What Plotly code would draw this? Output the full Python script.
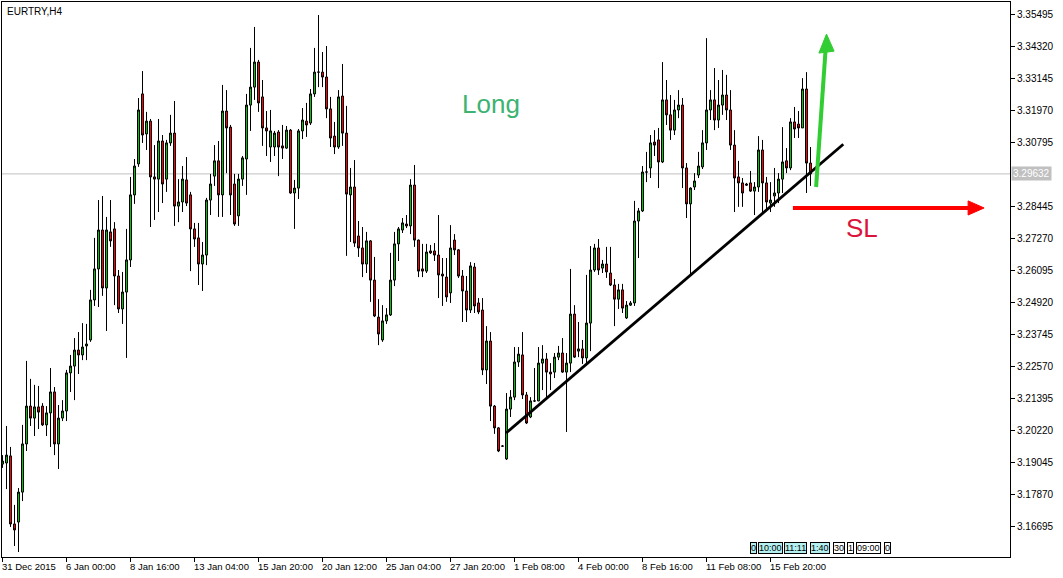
import plotly.graph_objects as go

symbol_title = "EURTRY,H4"

open_ = [3.1897, 3.1901, 3.1927, 3.1677, 3.1684, 3.1794, 3.1971, 3.2110, 3.2066, 3.2107,
         3.2110, 3.2041, 3.2085, 3.2162, 3.1971, 3.2066, 3.2092, 3.2232, 3.2257, 3.2316,
         3.2298, 3.2331, 3.2353, 3.2500, 3.2614, 3.2757, 3.2544, 3.2750, 3.2761, 3.2588,
         3.2467, 3.2529, 3.2647, 3.2886, 3.3000, 3.3257, 3.3110, 3.3157, 3.2952, 3.2944,
         3.3084, 3.2944, 3.3077, 3.3113, 3.2845, 3.2860, 3.2941, 3.2886, 3.2761, 3.2728,
         3.2632, 3.2665, 3.2867, 3.2955, 3.3011, 3.2886, 3.3194, 3.3135, 3.2926, 3.2809,
         3.2944, 3.3018, 3.3216, 3.3282, 3.3374, 3.3246, 3.3132, 3.3062, 3.3062, 3.3117,
         3.3066, 3.3058, 3.3124, 3.2893, 3.2911, 3.3121, 3.3157, 3.3150, 3.3257, 3.3337,
         3.3337, 3.3319, 3.3202, 3.3102, 3.3062, 3.3249, 3.3113, 3.2886, 3.2915, 3.2735,
         3.2691, 3.2632, 3.2717, 3.2573, 3.2437, 3.2353, 3.2423, 3.2445, 3.2573, 3.2706,
         3.2757, 3.2779, 3.2772, 3.2922, 3.2720, 3.2614, 3.2606, 3.2680, 3.2680, 3.2665,
         3.2595, 3.2584, 3.2526, 3.2720, 3.2684, 3.2588, 3.2533, 3.2463, 3.2621, 3.2489,
         3.2463, 3.2243, 3.2349, 3.2110, 3.2030, 3.1963, 3.1916, 3.2099, 3.2143, 3.2272,
         3.2298, 3.2151, 3.2070, 3.2129, 3.2129, 3.2268, 3.2283, 3.2235, 3.2235, 3.2290,
         3.2305, 3.2235, 3.2268, 3.2448, 3.2312, 3.2320, 3.2287, 3.2415, 3.2610, 3.2691,
         3.2617, 3.2632, 3.2599, 3.2555, 3.2503, 3.2537, 3.2434, 3.2481, 3.2489, 3.2790,
         3.2827, 3.2970, 3.2985, 3.3080, 3.3088, 3.3007, 3.3235, 3.3180, 3.3124, 3.3198,
         3.3216, 3.2985, 3.2853, 3.2915, 3.2959, 3.2989, 3.3077, 3.3198, 3.3235, 3.3161,
         3.3216, 3.3253, 3.3198, 3.3069, 3.2952, 3.2930, 3.2926, 3.2930, 3.2900, 3.2915,
         3.3051, 3.2930, 3.2856, 3.2882, 3.2893, 3.2944, 3.3011, 3.2985, 3.3154, 3.3146,
         3.3132, 3.3275, 3.3003]
high = [3.1930, 3.2037, 3.1960, 3.1747, 3.1809, 3.2041, 3.2276, 3.2210, 3.2188, 3.2184,
        3.2121, 3.2110, 3.2250, 3.2180, 3.2114, 3.2132, 3.2243, 3.2298, 3.2360, 3.2382,
        3.2415, 3.2412, 3.2537, 3.2728, 3.2867, 3.2882, 3.2805, 3.2867, 3.2786, 3.2610,
        3.2603, 3.2761, 3.2952, 3.3018, 3.3242, 3.3341, 3.3191, 3.3165, 3.3069, 3.3165,
        3.3106, 3.3088, 3.3180, 3.3231, 3.2944, 3.2992, 3.3025, 3.2897, 3.2783, 3.2783,
        3.2713, 3.2875, 3.2963, 3.3069, 3.3084, 3.3290, 3.3271, 3.3143, 3.2963, 3.2963,
        3.3029, 3.3257, 3.3426, 3.3503, 3.3382, 3.3308, 3.3194, 3.3198, 3.3121, 3.3124,
        3.3143, 3.3139, 3.3128, 3.2941, 3.3128, 3.3205, 3.3224, 3.3275, 3.3426, 3.3547,
        3.3411, 3.3433, 3.3246, 3.3154, 3.3271, 3.3367, 3.3213, 3.2985, 3.3014, 3.2790,
        3.2768, 3.2750, 3.2720, 3.2658, 3.2503, 3.2481, 3.2470, 3.2673, 3.2750, 3.2768,
        3.2801, 3.2812, 3.2944, 3.2996, 3.2722, 3.2706, 3.2706, 3.2702, 3.2709, 3.2812,
        3.2654, 3.2654, 3.2775, 3.2742, 3.2687, 3.2610, 3.2588, 3.2639, 3.2636, 3.2507,
        3.2507, 3.2404, 3.2382, 3.2114, 3.2033, 3.1967, 3.2158, 3.2169, 3.2327, 3.2327,
        3.2382, 3.2162, 3.2143, 3.2250, 3.2327, 3.2334, 3.2305, 3.2268, 3.2305, 3.2331,
        3.2360, 3.2305, 3.2614, 3.2481, 3.2419, 3.2353, 3.2592, 3.2698, 3.2706, 3.2724,
        3.2647, 3.2695, 3.2695, 3.2577, 3.2559, 3.2559, 3.2496, 3.2496, 3.2864, 3.2838,
        3.2992, 3.3044, 3.3106, 3.3124, 3.3132, 3.3374, 3.3308, 3.3253, 3.3235, 3.3271,
        3.3242, 3.3003, 3.2914, 3.2966, 3.3044, 3.3124, 3.3462, 3.3271, 3.3352, 3.3308,
        3.3345, 3.3327, 3.3271, 3.3124, 3.3011, 3.2948, 3.2930, 3.2974, 3.2933, 3.3102,
        3.3088, 3.2952, 3.2933, 3.2985, 3.2966, 3.3135, 3.3058, 3.3168, 3.3209, 3.3194,
        3.3315, 3.3337, 3.3062]
low = [3.1883, 3.1805, 3.1666, 3.1596, 3.1574, 3.1761, 3.1945, 3.2037, 3.2000, 3.2026,
       3.2037, 3.2000, 3.1960, 3.1930, 3.1879, 3.2055, 3.2055, 3.2162, 3.2132, 3.2228,
       3.2279, 3.2279, 3.2346, 3.2478, 3.2474, 3.2515, 3.2386, 3.2695, 3.2481, 3.2452,
       3.2412, 3.2287, 3.2621, 3.2853, 3.2989, 3.3077, 3.3051, 3.2768, 3.2794, 3.2823,
       3.2856, 3.2897, 3.3066, 3.2772, 3.2786, 3.2823, 3.2845, 3.2606, 3.2695, 3.2555,
       3.2533, 3.2628, 3.2812, 3.2919, 3.2805, 3.2805, 3.2966, 3.2812, 3.2772, 3.2772,
       3.2919, 3.2886, 3.3121, 3.3235, 3.3191, 3.3066, 3.3029, 3.3007, 3.3029, 3.2955,
       3.3018, 3.3055, 3.2890, 3.2761, 3.2871, 3.3091, 3.3099, 3.3143, 3.3246, 3.3282,
       3.3282, 3.3168, 3.3062, 3.3036, 3.3055, 3.3066, 3.2662, 3.2713, 3.2695, 3.2658,
       3.2584, 3.2599, 3.2493, 3.2437, 3.2334, 3.2346, 3.2412, 3.2441, 3.2551, 3.2643,
       3.2746, 3.2764, 3.2742, 3.2695, 3.2584, 3.2584, 3.2599, 3.2669, 3.2643, 3.2507,
       3.2478, 3.2493, 3.2489, 3.2665, 3.2581, 3.2419, 3.2419, 3.2452, 3.2452, 3.2448,
       3.2224, 3.2191, 3.2055, 3.2008, 3.1941, 3.1960, 3.1912, 3.2070, 3.2132, 3.2254,
       3.2136, 3.2044, 3.2066, 3.2125, 3.2128, 3.2169, 3.2136, 3.2169, 3.2213, 3.2279,
       3.2232, 3.2015, 3.2235, 3.2287, 3.2290, 3.2265, 3.2265, 3.2312, 3.2603, 3.2592,
       3.2599, 3.2581, 3.2551, 3.2404, 3.2467, 3.2452, 3.2430, 3.2478, 3.2478, 3.2654,
       3.2823, 3.2933, 3.2948, 3.3029, 3.2911, 3.3003, 3.3143, 3.3088, 3.3106, 3.3168,
       3.2911, 3.2801, 3.2592, 3.2904, 3.2948, 3.2981, 3.3051, 3.3161, 3.3124, 3.3132,
       3.3180, 3.3161, 3.3051, 3.2823, 3.2842, 3.2842, 3.2919, 3.2897, 3.2812, 3.2897,
       3.2820, 3.2830, 3.2823, 3.2842, 3.2856, 3.2893, 3.2966, 3.2977, 3.3095, 3.3095,
       3.3132, 3.2893, 3.2919]
close = [3.1908, 3.1930, 3.1677, 3.1655, 3.1794, 3.1971, 3.2110, 3.2066, 3.2107, 3.2088,
         3.2041, 3.2085, 3.2162, 3.1971, 3.2066, 3.2092, 3.2232, 3.2257, 3.2316, 3.2298,
         3.2327, 3.2338, 3.2500, 3.2614, 3.2757, 3.2544, 3.2757, 3.2717, 3.2588, 3.2467,
         3.2529, 3.2647, 3.2886, 3.2992, 3.3198, 3.3106, 3.3157, 3.2952, 3.2944, 3.3084,
         3.2926, 3.3077, 3.3113, 3.2845, 3.2860, 3.2944, 3.2856, 3.2761, 3.2724, 3.2632,
         3.2665, 3.2867, 3.2926, 3.3011, 3.2886, 3.3194, 3.3132, 3.2886, 3.2779, 3.2944,
         3.3022, 3.3216, 3.3282, 3.3374, 3.3224, 3.3132, 3.3121, 3.3121, 3.3113, 3.3062,
         3.3058, 3.3124, 3.2893, 3.2911, 3.3121, 3.3161, 3.3143, 3.3257, 3.3337, 3.3337,
         3.3319, 3.3202, 3.3095, 3.3062, 3.3246, 3.3113, 3.2889, 3.2915, 3.2709, 3.2691,
         3.2632, 3.2717, 3.2573, 3.2441, 3.2375, 3.2423, 3.2445, 3.2573, 3.2706, 3.2761,
         3.2783, 3.2772, 3.2922, 3.2720, 3.2606, 3.2606, 3.2676, 3.2673, 3.2665, 3.2592,
         3.2588, 3.2511, 3.2691, 3.2684, 3.2588, 3.2533, 3.2463, 3.2625, 3.2478, 3.2456,
         3.2243, 3.2349, 3.2110, 3.2030, 3.1945, 3.1963, 3.2099, 3.2143, 3.2272, 3.2301,
         3.2151, 3.2048, 3.2129, 3.2129, 3.2268, 3.2283, 3.2235, 3.2228, 3.2290, 3.2305,
         3.2235, 3.2268, 3.2448, 3.2290, 3.2320, 3.2287, 3.2415, 3.2610, 3.2691, 3.2610,
         3.2632, 3.2603, 3.2555, 3.2503, 3.2537, 3.2470, 3.2481, 3.2489, 3.2790, 3.2827,
         3.2970, 3.2970, 3.3077, 3.3069, 3.3007, 3.3235, 3.3180, 3.3124, 3.3198, 3.3216,
         3.2985, 3.2853, 3.2911, 3.2937, 3.2992, 3.3077, 3.3198, 3.3235, 3.3161, 3.3216,
         3.3253, 3.3198, 3.3069, 3.2948, 3.2930, 3.2893, 3.2922, 3.2900, 3.2915, 3.3051,
         3.2930, 3.2860, 3.2867, 3.2893, 3.2944, 3.3007, 3.2985, 3.3154, 3.3128, 3.3132,
         3.3275, 3.3003, 3.29632]
bar_index = list(range(len(open_)))

last_price = 3.29632
price_ticks = [3.35495, 3.34320, 3.33145, 3.31970, 3.30795, 3.28445, 3.27270, 3.26095,
               3.24920, 3.23745, 3.22570, 3.21395, 3.20220, 3.19045, 3.17870, 3.16695]
time_tick_bars = [0, 16, 32, 48, 64, 80, 96, 112, 128, 144, 160, 176, 192]
time_tick_labels = ["31 Dec 2015", "6 Jan 00:00", "8 Jan 16:00", "13 Jan 04:00", "15 Jan 20:00",
                    "20 Jan 12:00", "25 Jan 04:00", "27 Jan 20:00", "1 Feb 08:00", "4 Feb 00:00",
                    "8 Feb 16:00", "11 Feb 08:00", "15 Feb 20:00"]

# trend line (bar, price) endpoints
trend_start = (125.9, 3.2011)
trend_end = (210.2, 3.3072)

GREEN = "#00c800"
RED = "#ff0000"
FONT = "Liberation Sans, Arial, sans-serif"

fig = go.Figure()
fig.add_trace(go.Candlestick(
    x=bar_index, open=open_, high=high, low=low, close=close,
    increasing=dict(fillcolor=GREEN, line=dict(color="black", width=1)),
    decreasing=dict(fillcolor=RED, line=dict(color="black", width=1)),
    whiskerwidth=0, hoverinfo="skip", showlegend=False,
))

fig.update_layout(
    width=1063, height=578,
    margin=dict(l=2, r=53, t=2, b=21),
    paper_bgcolor="white", plot_bgcolor="white",
    boxgap=0.5, boxgroupgap=0,
    showlegend=False,
    font=dict(family=FONT, size=10, color="black"),
)
fig.update_xaxes(
    range=[-0.125, 251.875], rangeslider_visible=False,
    showgrid=False, zeroline=False,
    showline=True, linecolor="black", linewidth=1, mirror=True,
    tickmode="array", tickvals=time_tick_bars, showticklabels=False,
    ticks="outside", ticklen=4, tickcolor="black", tickwidth=1,
)
fig.update_yaxes(
    range=[3.15556, 3.35947], side="right",
    showgrid=False, zeroline=False,
    showline=True, linecolor="black", linewidth=1, mirror=True,
    tickmode="array", tickvals=price_ticks, ticktext=[f"{v:.5f}" for v in price_ticks],
    ticks="outside", ticklen=4, tickcolor="black", tickwidth=1,
    tickfont=dict(family=FONT, size=10, color="black"),
)

# current price line
fig.add_shape(type="line", xref="paper", x0=0, x1=1, yref="y", y0=last_price, y1=last_price,
              line=dict(color="#c0c0c0", width=1), layer="below")

# trend line
fig.add_shape(type="line", xref="x", yref="y",
              x0=trend_start[0], y0=trend_start[1], x1=trend_end[0], y1=trend_end[1],
              line=dict(color="black", width=2.8))

# green long arrow
fig.add_shape(type="line", xref="x", yref="y", x0=203.4, y0=3.2915, x1=205.75, y1=3.3415,
              line=dict(color="#32cd32", width=4))
fig.add_shape(type="path", xref="x", yref="y",
              path="M 206.0,3.3477 L 204.1,3.3407 L 207.9,3.3414 Z",
              fillcolor="#32cd32", line=dict(color="#32cd32", width=1))

# red stop-loss arrow
fig.add_shape(type="line", xref="x", yref="y", x0=197.6, y0=3.2838, x1=242.0, y1=3.2838,
              line=dict(color=RED, width=4))
fig.add_shape(type="path", xref="x", yref="y",
              path="M 245.4,3.2838 L 241.4,3.2864 L 241.4,3.2812 Z",
              fillcolor=RED, line=dict(color=RED, width=1))

ann = []
ann.append(dict(text=symbol_title, xref="paper", yref="paper", x=0, y=1, xanchor="left", yanchor="top",
                xshift=3, yshift=-2, showarrow=False, font=dict(family=FONT, size=10, color="black")))
ann.append(dict(text="Long", xref="x", yref="y", x=122.1, y=3.3220, showarrow=False,
                font=dict(family=FONT, size=26, color="#3cb371")))
ann.append(dict(text="SL", xref="x", yref="y", x=214.9, y=3.2764, showarrow=False,
                font=dict(family=FONT, size=26, color="#dc143c")))
for b, lab in zip(time_tick_bars, time_tick_labels):
    ann.append(dict(text=lab, xref="x", yref="paper", x=b, y=0, xanchor="left", yanchor="top",
                    xshift=-3, yshift=-2, showarrow=False, font=dict(family=FONT, size=9.5, color="black")))
ann.append(dict(text=f"{last_price:.5f}", xref="paper", yref="y", x=1, y=last_price,
                xanchor="left", yanchor="middle", xshift=1, showarrow=False,
                bgcolor="#c0c0c0", borderpad=1, font=dict(family=FONT, size=10, color="white")))

# small time widgets at the bottom right
widgets = [("0", 753.5, "#b4f0f0"), ("10:00", 770, "#b4f0f0"), ("11:11", 795, "#b4f0f0"),
           ("1:40", 820, "#b4f0f0"), ("30", 838.5, "white"), ("1", 850.5, "white"),
           ("09:00", 868.5, "white"), ("0", 887, "white")]
for t, px, bg in widgets:
    ann.append(dict(text=t, xref="paper", yref="paper", x=(px - 2) / 1008, y=1 - (548 - 2) / 555,
                    xanchor="center", yanchor="middle", showarrow=False, bgcolor=bg,
                    bordercolor="black", borderwidth=1, borderpad=0,
                    font=dict(family=FONT, size=9, color="black")))
fig.update_layout(annotations=ann)

fig.write_html("out.html", config={"displayModeBar": False},
               post_script="document.body.style.margin='0';document.body.style.padding='0';")
